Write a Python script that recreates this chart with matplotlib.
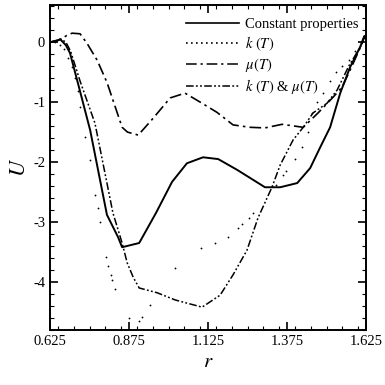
import matplotlib
matplotlib.use("Agg")
import matplotlib.pyplot as plt
from matplotlib.lines import Line2D
from matplotlib.ticker import MultipleLocator, FixedLocator

plt.rcParams['font.family'] = ['Liberation Serif', 'DejaVu Serif']
plt.rcParams['mathtext.fontset'] = 'stix'

# Constant properties (solid)
r_const = [0.625, 0.645, 0.657, 0.675, 0.688, 0.714, 0.752, 0.805, 0.84, 0.853,
           0.907, 0.96, 1.011, 1.058, 1.109, 1.157, 1.217, 1.305, 1.353, 1.407,
           1.448, 1.48, 1.511, 1.543, 1.574, 1.606, 1.619, 1.625]
u_const = [0.0, 0.02, 0.05, -0.05, -0.18, -0.7, -1.47, -2.88, -3.25, -3.42,
           -3.35, -2.85, -2.33, -2.02, -1.92, -1.95, -2.13, -2.42, -2.42, -2.35,
           -2.1, -1.75, -1.42, -0.85, -0.42, -0.08, 0.1, 0.05]

# k(T) (dotted, sparse dots)
r_k = [0.625, 0.64, 0.655, 0.668, 0.682, 0.693, 0.704, 0.712, 0.72, 0.736,
       0.752, 0.767, 0.777, 0.783, 0.802, 0.808, 0.818, 0.822, 0.831, 0.875,
       0.907, 0.917, 0.941, 1.021, 1.103, 1.147, 1.188, 1.22, 1.232, 1.255,
       1.267, 1.34, 1.362, 1.372, 1.40, 1.422, 1.44, 1.454, 1.47, 1.49,
       1.51, 1.53, 1.55, 1.57, 1.59, 1.61, 1.62]
u_k = [0.0, 0.0, -0.05, -0.12, -0.27, -0.42, -0.6, -0.82, -1.08, -1.58,
       -1.97, -2.55, -2.77, -3.0, -3.58, -3.73, -3.88, -3.97, -4.12, -4.6,
       -4.65, -4.58, -4.38, -3.77, -3.43, -3.35, -3.25, -3.1, -3.03, -2.93,
       -2.85, -2.38, -2.22, -2.15, -1.95, -1.75, -1.5, -1.18, -1.0, -0.85,
       -0.65, -0.5, -0.4, -0.3, -0.15, 0.0, 0.1]

# mu(T) (dash-dot)
r_mu = [0.625, 0.645, 0.66, 0.68, 0.695, 0.72, 0.742, 0.774, 0.805, 0.853,
        0.87, 0.904, 0.951, 1.005, 1.052, 1.10, 1.153, 1.204, 1.258, 1.305,
        1.359, 1.426, 1.473, 1.52, 1.549, 1.58, 1.61, 1.62, 1.625]
u_mu = [0.0, 0.02, 0.05, 0.12, 0.15, 0.14, -0.02, -0.3, -0.67, -1.42,
        -1.5, -1.55, -1.27, -0.93, -0.85, -1.0, -1.17, -1.38, -1.42, -1.43,
        -1.37, -1.42, -1.18, -0.92, -0.75, -0.4, -0.05, 0.1, 0.05]

# k(T) & mu(T) (dash-dot-dot)
r_kmu = [0.625, 0.645, 0.66, 0.675, 0.69, 0.72, 0.767, 0.824, 0.853, 0.869,
         0.888, 0.907, 0.964, 1.021, 1.106, 1.163, 1.204, 1.248, 1.283, 1.327,
         1.353, 1.394, 1.426, 1.457, 1.501, 1.533, 1.57, 1.61, 1.62, 1.625]
u_kmu = [0.0, 0.03, 0.05, 0.0, -0.15, -0.65, -1.35, -2.85, -3.35, -3.68,
         -3.92, -4.1, -4.18, -4.3, -4.42, -4.22, -3.88, -3.47, -2.93, -2.42,
         -2.05, -1.63, -1.42, -1.18, -1.02, -0.8, -0.4, -0.05, 0.1, 0.05]

labels = ["Constant properties", r"$k\ (T)$", r"$\mu(T)$", r"$k\ (T)$ & $\mu(T)$"]
x_ticks = [0.625, 0.875, 1.125, 1.375, 1.625]
x_ticklabels = ["0.625", "0.875", "1.125", "1.375", "1.625"]
y_ticks = [0, -1, -2, -3, -4]

fig = plt.figure(figsize=(3.85, 3.85), dpi=100)
ax = fig.add_axes([0.13, 0.143, 0.821, 0.844])

ls_mu = (0, (7, 2.5, 1.5, 2.5))
ls_kmu = (0, (5, 1.5, 1.2, 1.5, 1.2, 1.5))

ax.plot(r_const, u_const, color='black', lw=1.4, ls='-')
ax.plot(r_k, u_k, color='black', ls='none', marker='o', ms=1.3, mew=0)
ax.plot(r_mu, u_mu, color='black', lw=1.2, ls=ls_mu)
ax.plot(r_kmu, u_kmu, color='black', lw=1.1, ls=ls_kmu)

ax.set_xlim(0.625, 1.625)
ax.set_ylim(-4.8, 0.62)
ax.xaxis.set_major_locator(FixedLocator(x_ticks))
ax.set_xticklabels(x_ticklabels)
ax.xaxis.set_minor_locator(MultipleLocator(0.05))
ax.yaxis.set_major_locator(FixedLocator(y_ticks))
ax.set_yticklabels([str(v) for v in y_ticks])
ax.yaxis.set_minor_locator(MultipleLocator(0.2))
ax.tick_params(which='both', direction='in', top=True, right=True, labelsize=10.5)
ax.tick_params(which='major', length=6, width=1.2)
ax.tick_params(which='minor', length=3, width=0.8)
for s in ax.spines.values():
    s.set_linewidth(1.4)

ax.set_xlabel(r"$r$", fontsize=15, labelpad=4)
ax.set_ylabel(r"$U$", fontsize=16, labelpad=2)

handles = [
    Line2D([], [], color='black', lw=1.2, ls='-'),
    Line2D([], [], color='black', lw=1.2, ls=(0, (1, 2))),
    Line2D([], [], color='black', lw=1.1, ls=ls_mu),
    Line2D([], [], color='black', lw=1.1, ls=ls_kmu),
]
ax.legend(handles, labels, loc='upper right', frameon=False, fontsize=10.5,
          handlelength=3.6, handletextpad=0.4, labelspacing=0.22,
          borderaxespad=0.0, borderpad=0.0, bbox_to_anchor=(0.975, 0.96))

fig.savefig("out.png", dpi=100)
